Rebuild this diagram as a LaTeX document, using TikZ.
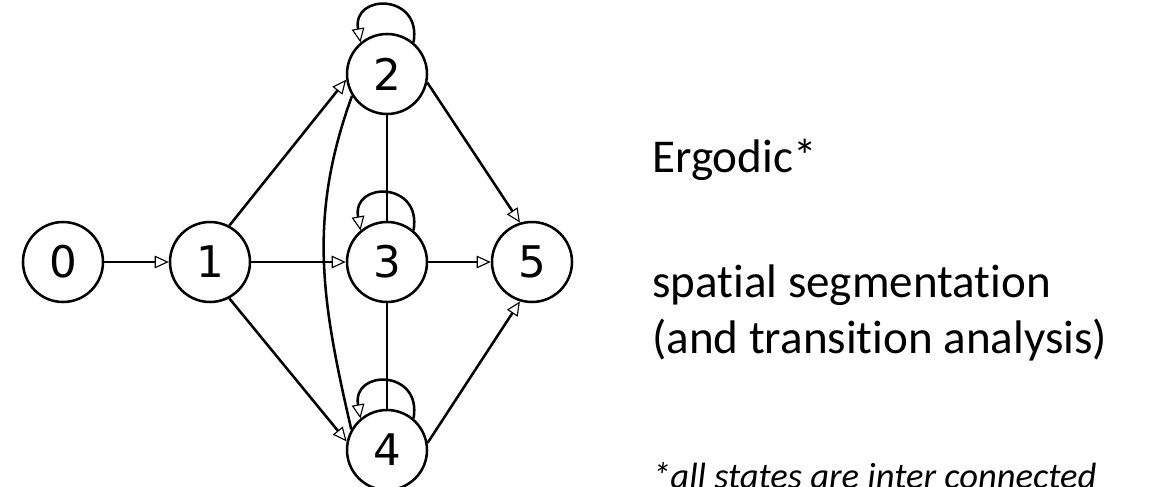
\documentclass[tikz,border=0pt]{standalone}
\usepackage{fontspec}
\setmainfont[Ligatures=NoCommon]{Carlito}
\newfontfamily\statefont{DejaVu Sans}
\usetikzlibrary{arrows.meta}
\tikzstyle{arrow} = [line width=1.8pt,-{Triangle[open,length=10pt,width=9pt,line width=0.8pt]}]
\tikzstyle{link} = [line width=1.8pt]
\tikzstyle{circ} = [circle,draw,line width=1.8pt,minimum size=2cm,inner sep=0pt,font=\statefont\fontsize{31}{31}\selectfont]
\tikzstyle{bigtext} = [anchor=base west,inner sep=0pt,font=\fontsize{33.5}{33.5}\selectfont]
\tikzstyle{smalltext} = [anchor=base west,inner sep=0pt,font=\itshape\fontsize{26}{26}\selectfont]

\begin{document}
\begin{tikzpicture}
    \useasboundingbox (0,0) rectangle (28.75,-12.15);
    \node[circ] (n0) at (1.575,-6.55) {0};
    \node[circ] (n1) at (5.25,-6.55) {1};
    \node[circ] (n2) at (9.675,-1.85) {2};
    \node[circ] (n3) at (9.675,-6.55) {3};
    \node[circ] (n4) at (9.675,-11.25) {4};
    \node[circ] (n5) at (13.3,-6.55) {5};
    \draw[arrow] (n0) -- (n1);
    \draw[arrow] (n1.62) -- (n2.188);
    \draw[arrow] (n1) -- (n3);
    \draw[arrow] (n1.-62) -- (n4.168);
    \draw[link] (n2) -- (n3);
    \draw[link] (n3) -- (n4);
    \draw[link] (n2.212) to[out=250,in=103] (n4.150);
    \draw[arrow] (n2.-12) -- (n5.107);
    \draw[arrow] (n3) -- (n5);
    \draw[arrow] (n4.10) -- (n5.-107);
    \foreach \n in {n2,n3,n4}
        \draw[arrow] (\n.50) to[out=80,in=100,distance=1.25cm] (\n.130);
    \node[bigtext] (ergo) at (16.3,-4.3) {Ergodic*};
    \node[bigtext] (seg) at (16.3,-7.425) {spatial segmentation};
    \node[bigtext] (trans) at (16.3,-8.825) {(and transition analysis)};
    \node[smalltext] (note) at (16.3,-12.2) {*all states are inter connected};
\end{tikzpicture}
\end{document}
